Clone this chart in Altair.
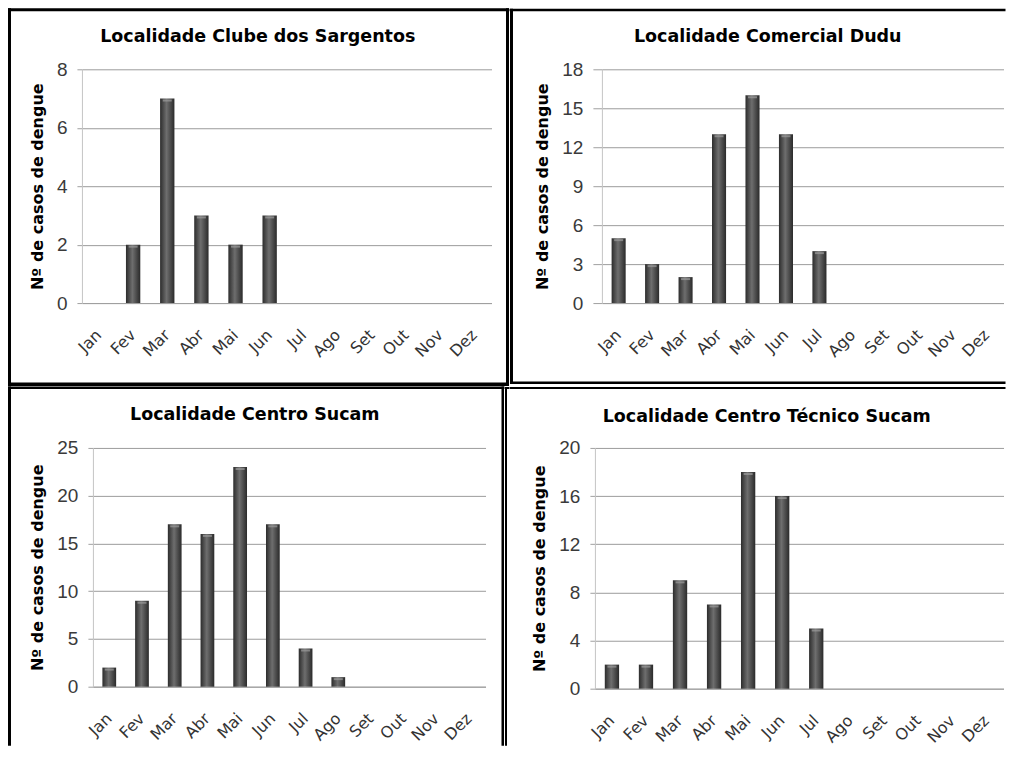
import altair as alt
import pandas as pd

months = ["Jan", "Fev", "Mar", "Abr", "Mai", "Jun", "Jul", "Ago", "Set", "Out", "Nov", "Dez"]
clube_sargentos = [0, 2, 7, 3, 2, 3, 0, 0, 0, 0, 0, 0]
comercial_dudu = [5, 3, 2, 13, 16, 13, 4, 0, 0, 0, 0, 0]
centro_sucam = [2, 9, 17, 16, 23, 17, 4, 1, 0, 0, 0, 0]
centro_tecnico_sucam = [2, 2, 9, 7, 18, 16, 5, 0, 0, 0, 0, 0]

titles = [
    "Localidade Clube dos Sargentos",
    "Localidade Comercial Dudu",
    "Localidade Centro Sucam",
    "Localidade Centro Técnico Sucam",
]
y_max = [8, 18, 25, 20]
y_step = [2, 3, 5, 4]
y_title = "Nº de casos de dengue"

FONT = "DejaVu Sans"
NUM_FONT = "Liberation Sans"

bar_fill = alt.Gradient(
    gradient="linear",
    x1=0, x2=1, y1=0, y2=0,
    stops=[
        alt.GradientStop(color="#2c2c2c", offset=0),
        alt.GradientStop(color="#6e6e6e", offset=0.45),
        alt.GradientStop(color="#2a2a2a", offset=1),
    ],
)

one_row = alt.Data(values=[{"k": 1}])


def frame(x1, x2, y1, y2):
    """A black border strip (filled rectangle, so its bounds are exact)."""
    return alt.Chart(one_row).mark_rect(color="black").encode(
        x=alt.value(x1), x2=alt.value(x2), y=alt.value(y1), y2=alt.value(y2)
    )


def panel(values, title, ymax, step, view_w, view_h, plot_x, plot_y,
          frames, tx, ty, tick_size=5):
    """view_w/view_h: size of the whole framed cell; plot_x/plot_y: pixel range
    of the plotting area inside the cell."""
    df = pd.DataFrame({"mes": months, "casos": values})
    x_enc = alt.X(
        "mes:N",
        sort=months,
        scale=alt.Scale(range=list(plot_x), paddingInner=0.58, paddingOuter=0.29),
        axis=alt.Axis(
            title=None,
            offset=-(view_h - plot_y[1]),
            labelAngle=-45,
            labelAlign="right",
            labelBaseline="middle",
            labelFont=FONT,
            labelFontSize=16,
            labelColor="#333333",
            labelPadding=29,
            ticks=False,
            grid=False,
            domainColor="#a0a0a0",
        ),
    )
    y_scale = alt.Scale(domain=[0, ymax], nice=False, range=[plot_y[1], plot_y[0]])
    bars = alt.Chart(df).mark_bar(color=bar_fill).encode(
        x=x_enc,
        y=alt.Y(
            "casos:Q",
            scale=y_scale,
            axis=alt.Axis(
                values=list(range(0, ymax + 1, step)),
                offset=-plot_x[0],
                title=y_title,
                titleFont=FONT,
                titleFontSize=16,
                titleFontWeight="bold",
                titleColor="#000000",
                titlePadding=11,
                labelFont=NUM_FONT,
                labelFontSize=19,
                labelColor="#3a3a3a",
                labelPadding=10,
                tickSize=tick_size,
                tickColor="#a0a0a0",
                domainColor="#c4c4c4",
                grid=True,
                gridColor="#9c9c9c",
                gridWidth=1,
            ),
        ),
    )
    caps = alt.Chart(df).transform_filter("datum.casos > 0").mark_tick(
        color="#9c9c9c", thickness=2, size=9, yOffset=2
    ).encode(x=alt.X("mes:N", sort=months), y=alt.Y("casos:Q"))
    layers = [bars, caps]
    for f in frames:
        layers.append(frame(*f))
    layers.append(
        alt.Chart(one_row).mark_text(
            text=title, font=FONT, fontSize=17.5, fontWeight="bold",
            color="#000000", align="center", baseline="alphabetic",
        ).encode(x=alt.value(tx), y=alt.value(ty))
    )
    return alt.layer(*layers).properties(width=view_w, height=view_h)


# cell sizes (page: column 1 starts at x=8, row 1 at y=8); total width kept
# within the 998px page body so the drawing is not shrunk.
C1W, C2W = 501.5, 496.5
R1H, R2H = 378, 360

p1 = panel(clube_sargentos, titles[0], y_max[0], y_step[0], C1W, R1H,
           (74, 484), (61, 295),
           [(0, C1W, 0, 3), (0, 3, 0, R1H), (C1W - 3, C1W, 0, R1H), (0, C1W, R1H - 3.5, R1H)],
           250, 34)
p2 = panel(comercial_dudu, titles[1], y_max[1], y_step[1], C2W, R1H,
           (92.5, 494.5), (61, 295),
           [(0, C2W, 0.5, 3), (0.5, 3.5, 0.5, 376), (0.5, C2W, 373.5, 376)],
           258.5, 34, tick_size=9)
p3 = panel(centro_sucam, titles[2], y_max[2], y_step[2], C1W, R2H,
           (85, 478), (62, 301),
           [(0, 497, 0.5, 3), (0, 3, 0.5, R2H), (494, 496.5, 0.5, R2H),
            (497.5, 499.5, 1, R2H), (497.5, C1W, 1, 3)],
           247, 34)
p4 = panel(centro_tecnico_sucam, titles[3], y_max[3], y_step[3], C2W, R2H,
           (85.5, 494.5), (62, 303),
           [(0, C2W, 1, 3)],
           257.5, 36)

chart = alt.vconcat(
    alt.hconcat(p1, p2, spacing=0),
    alt.hconcat(p3, p4, spacing=0),
    spacing=0,
).properties(padding=0).configure_view(stroke=None)

chart.save("out.html", embed_options={"renderer": "svg", "actions": False})
